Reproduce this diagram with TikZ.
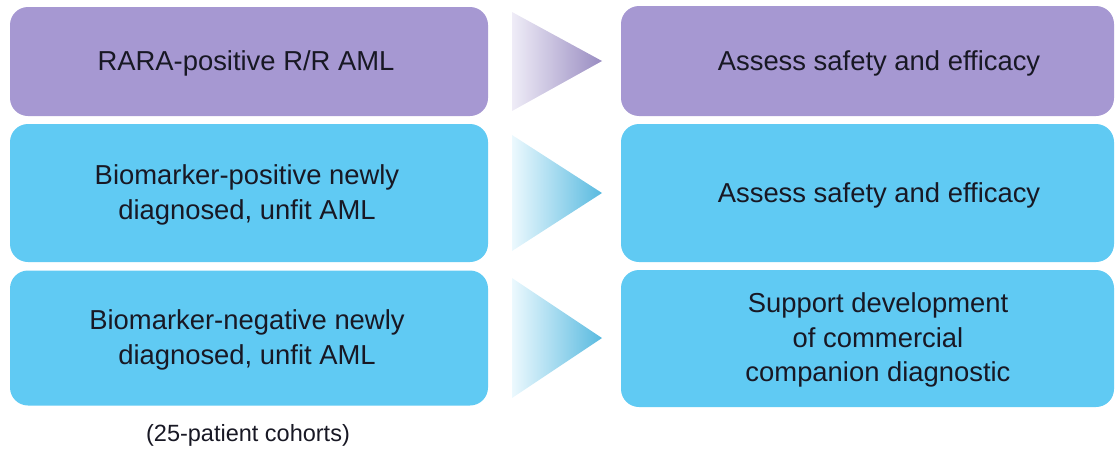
\documentclass[tikz,border=0pt]{standalone}
\usepackage{fontspec}
\setmainfont{Liberation Sans}
\definecolor{boxpurple}{RGB}{166,152,210}
\definecolor{boxcyan}{RGB}{96,202,243}
\definecolor{txt}{RGB}{24,24,36}
\begin{document}
\begin{tikzpicture}[x=1pt,y=-1pt,
  lbox/.style={rectangle, rounded corners=18pt, minimum width=478pt, inner sep=0pt, draw=none},
  rbox/.style={rectangle, rounded corners=18pt, minimum width=493pt, inner sep=0pt, draw=none},
  lbl/.style={font=\fontsize{27.4}{34.5}\selectfont, text=txt, align=center, inner sep=0pt},
  note/.style={font=\fontsize{23.5}{28}\selectfont, text=txt, inner sep=0pt}]
\useasboundingbox (0,0) rectangle (1116,450);
% left boxes
\node[lbox, fill=boxpurple, minimum height=109pt] (l1) at (249,61.5) {};
\node[lbox, fill=boxcyan, minimum height=138pt] (l2) at (249,193) {};
\node[lbox, fill=boxcyan, minimum height=135pt] (l3) at (249,338) {};
% right boxes
\node[rbox, fill=boxpurple, minimum height=110pt] (r1) at (867.5,61) {};
\node[rbox, fill=boxcyan, minimum height=138pt] (r2) at (867.5,193) {};
\node[rbox, fill=boxcyan, minimum height=137pt] (r3) at (867.5,338.5) {};
% arrows
\shade[left color=boxpurple!18, right color=boxpurple!92!black] (512,12) -- (602,61) -- (512,111) -- cycle;
\shade[left color=boxcyan!12, right color=boxcyan!92!black] (512,135) -- (602,193) -- (512,251) -- cycle;
\shade[left color=boxcyan!12, right color=boxcyan!92!black] (512,278) -- (602,338) -- (512,398) -- cycle;
% texts
\node[lbl] (t1) at (246,63) {RARA-positive R/R AML};
\node[lbl] (t2) at (247,195) {Biomarker-positive newly\\diagnosed, unfit AML};
\node[lbl] (t3) at (247,340) {Biomarker-negative newly\\diagnosed, unfit AML};
\node[lbl] (u1) at (879,63) {Assess safety and efficacy};
\node[lbl] (u2) at (879,195) {Assess safety and efficacy};
\node[lbl] (u3) at (878,340) {Support development\\of commercial\\companion diagnostic};
\node[note] (c) at (248,435) {(25-patient cohorts)};
\end{tikzpicture}
\end{document}
